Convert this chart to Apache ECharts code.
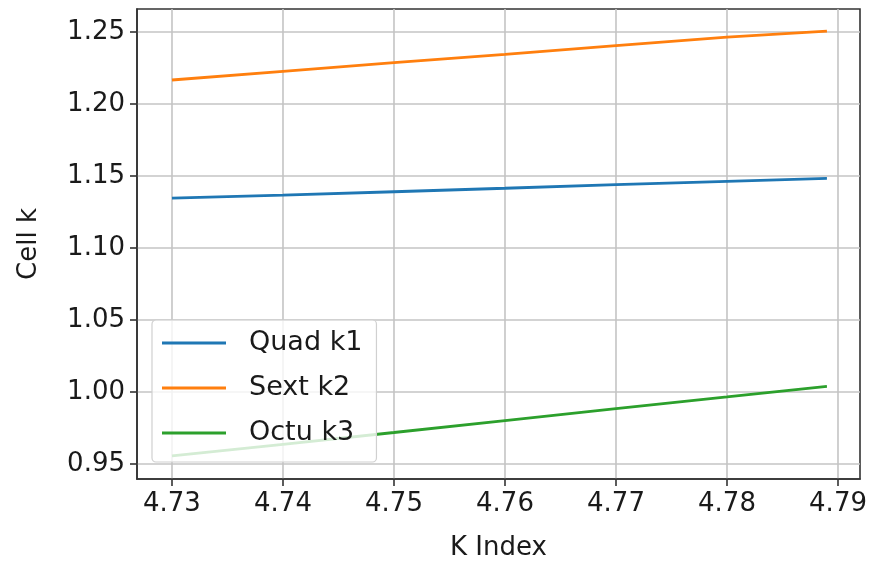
<!DOCTYPE html>
<html>
<head>
<meta charset="utf-8">
<script src="https://cdn.jsdelivr.net/npm/echarts@6/dist/echarts.min.js"></script>
<style>
  html, body { margin: 0; padding: 0; background: #fff; }
  #chart { width: 874px; height: 563px; }
</style>
</head>
<body>
<div id="chart"></div>
<script>
// K index samples and the cell strengths at each one
const kIndex = [4.73, 4.74, 4.75, 4.76, 4.77, 4.78, 4.789];
const quadK1 = [1.1347, 1.1368, 1.1391, 1.1415, 1.1440, 1.1463, 1.1484];
const sextK2 = [1.2167, 1.2227, 1.2287, 1.2345, 1.2405, 1.2465, 1.2507];
const octuK3 = [0.9556, 0.9637, 0.9719, 0.9802, 0.9884, 0.9966, 1.0040];

const xTicks = [4.73, 4.74, 4.75, 4.76, 4.77, 4.78, 4.79];
const yTicks = [0.95, 1.00, 1.05, 1.10, 1.15, 1.20, 1.25];

const seriesNames = ['Quad k1', 'Sext k2', 'Octu k3'];
const seriesColors = ['#1f77b4', '#ff7f0e', '#2ca02c'];
const seriesValues = [quadK1, sextK2, octuK3];

const FONT = 'DejaVu Sans';
const chart = echarts.init(document.getElementById('chart'), null, { renderer: 'canvas' });

const gridColor = '#c4c4c4';
const frameColor = '#333333';

chart.setOption({
  animation: false,
  textStyle: { fontFamily: FONT },
  grid: {
    left: 137, right: 14, top: 9, bottom: 84,
    show: true, borderColor: frameColor, borderWidth: 1.6,
    containLabel: false,
    outerBoundsMode: 'none'
  },
  legend: {
    left: 152, top: 320,
    orient: 'vertical',
    data: seriesNames,
    icon: 'rect',
    itemWidth: 64, itemHeight: 3,
    itemGap: 15,
    padding: [8, 14, 14, 10],
    backgroundColor: 'rgba(255,255,255,0.8)',
    borderColor: '#d0d0d0', borderWidth: 1.2, borderRadius: 4,
    textStyle: { fontFamily: FONT, fontSize: 27, color: '#1a1a1a', lineHeight: 30, padding: [0, 0, 0, 18] }
  },
  xAxis: {
    type: 'value',
    min: 4.72685, max: 4.79198,
    name: 'K Index', nameLocation: 'middle', nameGap: 56,
    nameTextStyle: { fontFamily: FONT, fontSize: 26, color: '#1a1a1a' },
    axisLine: { show: true, lineStyle: { color: frameColor, width: 1.6 } },
    axisTick: { show: true, inside: false, length: 7, lineStyle: { color: frameColor, width: 1.6 }, customValues: xTicks },
    axisLabel: { show: true, margin: 12, fontFamily: FONT, fontSize: 26, color: '#1a1a1a', customValues: xTicks,
      formatter: v => v.toFixed(2) },
    splitLine: { show: true, lineStyle: { color: gridColor, width: 1.6 } }
  },
  yAxis: {
    type: 'value',
    min: 0.9396, max: 1.266,
    name: 'Cell k', nameLocation: 'middle', nameGap: 95,
    nameTextStyle: { fontFamily: FONT, fontSize: 26, color: '#1a1a1a' },
    axisLine: { show: true, lineStyle: { color: frameColor, width: 1.6 } },
    axisTick: { show: true, inside: false, length: 7, lineStyle: { color: frameColor, width: 1.6 }, customValues: yTicks },
    axisLabel: { show: true, margin: 12, fontFamily: FONT, fontSize: 26, color: '#1a1a1a', customValues: yTicks,
      formatter: v => v.toFixed(2) },
    splitLine: { show: true, lineStyle: { color: gridColor, width: 1.6 } }
  },
  series: seriesNames.map((name, i) => ({
    name,
    type: 'line',
    data: kIndex.map((k, j) => [k, seriesValues[i][j]]),
    showSymbol: false,
    symbol: 'none',
    color: seriesColors[i],
    lineStyle: { color: seriesColors[i], width: 2.8 },
    z: 3
  }))
});
</script>
</body>
</html>
